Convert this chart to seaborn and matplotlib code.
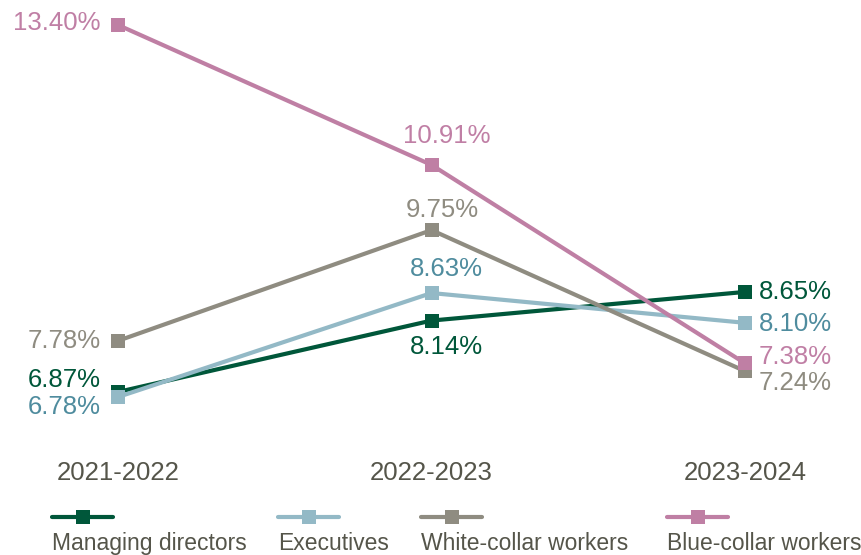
import numpy as np
import pandas as pd
import seaborn as sns
import matplotlib.pyplot as plt
from matplotlib.lines import Line2D

periods = ['2021-2022', '2022-2023', '2023-2024']
groups = ['Managing directors', 'Executives', 'White-collar workers', 'Blue-collar workers']
managing_directors = [6.87, 8.14, 8.65]
executives = [6.78, 8.63, 8.10]
white_collar = [7.78, 9.75, 7.24]
blue_collar = [13.40, 10.91, 7.38]

line_colors = ['#00573a', '#93b9c6', '#8f8c81', '#bf7fa4']
text_colors = ['#00573a', '#4f8c9e', '#8f8c81', '#c07fa5']

# label offsets in pixels (dx, dy) for each point, per group
offsets = {
    'Managing directors': [(-17, 12, 'right'), (15, -26, 'center'), (14, 0, 'left')],
    'Executives': [(-17, -10, 'right'), (15, 24, 'center'), (14, -1, 'left')],
    'White-collar workers': [(-17, 0, 'right'), (11, 20, 'center'), (14, -12, 'left')],
    'Blue-collar workers': [(-17, 2, 'right'), (15, 29, 'center'), (14, 6, 'left')],
}

values = [managing_directors, executives, white_collar, blue_collar]
df = pd.DataFrame({
    'x': np.tile(np.arange(len(periods)), len(groups)),
    'value': np.concatenate(values),
    'group': np.repeat(groups, len(periods)),
})

sns.set_style('white')
plt.rcParams['font.family'] = ['Liberation Sans', 'DejaVu Sans']

fig = plt.figure(figsize=(8.61, 5.55), dpi=100)
ax = fig.add_axes([0, 115 / 555, 1, 440 / 555])

sns.lineplot(data=df, x='x', y='value', hue='group', style='group',
             hue_order=groups, style_order=groups,
             palette=dict(zip(groups, line_colors)),
             markers={g: 's' for g in groups}, dashes=False,
             linewidth=3, markersize=10, markeredgewidth=0,
             legend=False, ax=ax)

for g, vals, tc in zip(groups, values, text_colors):
    for i, v in enumerate(vals):
        dx, dy, ha = offsets[g][i]
        ax.annotate(f'{v:.2f}%', (i, v), xytext=(dx, dy), textcoords='offset pixels',
                    ha=ha, va='center', fontsize=18.5, color=tc)

ax.set_xlim(-118 / 313.5, (861 - 118) / 313.5)
ax.set_ylim(6.78 - 43 / 56.19, 13.40 + 25 / 56.19)
ax.set_xticks(range(len(periods)))
ax.set_xticklabels(periods, fontsize=18.5, color='#55554a')
ax.tick_params(axis='x', length=0, pad=15)
ax.set_yticks([])
ax.set_xlabel('')
ax.set_ylabel('')
for s in ax.spines.values():
    s.set_visible(False)

# legend: handle above label
leg_x = [52, 278, 421, 667]
W, H = 861, 555
for g, lc, lx in zip(groups, line_colors, leg_x):
    y = 1 - 517 / H
    fig.add_artist(Line2D([lx / W, (lx + 61) / W], [y, y], color=lc, linewidth=3,
                          solid_capstyle='round', transform=fig.transFigure))
    fig.add_artist(Line2D([(lx + 31) / W], [y], color=lc, marker='s', markersize=10,
                          markeredgewidth=0, transform=fig.transFigure))
    fig.text(lx / W, 1 - 532 / H, g, ha='left', va='top', fontsize=16.5,
             color='#55554a')

fig.savefig('out.png', dpi=100)
